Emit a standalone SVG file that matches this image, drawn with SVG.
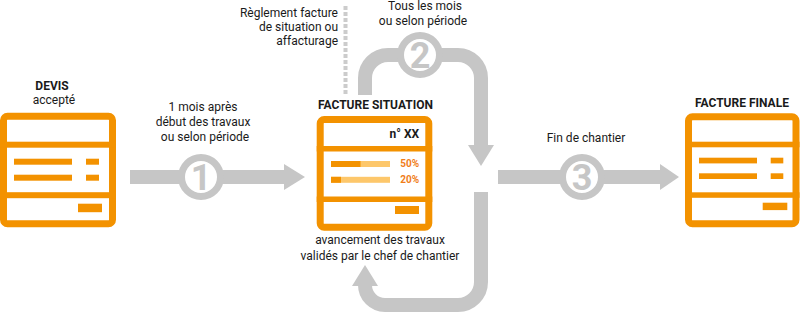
<svg xmlns="http://www.w3.org/2000/svg" width="800" height="317" viewBox="0 0 800 317">
<style>
  text { font-family: Roboto, "Liberation Sans", sans-serif; fill: #1a1a1a; }
  .t { font-size: 12px; }
  .b { font-size: 12px; font-weight: bold; }
  .num { font-size: 36px; font-weight: bold; fill: #c6c6c6; text-anchor: middle; }
  .pct { font-size: 10px; font-weight: bold; fill: #f07d1a; text-anchor: end; }
  .frame { fill: #ffffff; stroke: #f39200; stroke-width: 7; }
  .or { fill: #f39200; }
  .lt { fill: #fdc76b; }
  .band { fill: none; stroke: #c6c6c6; stroke-width: 14; }
  .gray { fill: #c6c6c6; }
  .ring { fill: #ffffff; stroke: #c6c6c6; stroke-width: 7; }
  .dash { stroke: #cccccc; stroke-width: 4; stroke-dasharray: 4 2; }
</style>

<g id="connectors">
  <!-- arrow 1 -->
  <rect class="gray" x="130" y="170" width="155" height="14"/>
  <polygon class="gray" points="284,164 305,177 284,190"/>
  <!-- arrow 3 -->
  <rect class="gray" x="498" y="170" width="163" height="14"/>
  <polygon class="gray" points="660,164 679,177 660,190"/>
  <!-- loop top -->
  <path class="band" d="M365 95 V78 A23 23 0 0 1 388 55 H458 A23 23 0 0 1 481 78 V146"/>
  <polygon class="gray" points="468,145 494,145 481,166"/>
  <!-- loop bottom -->
  <path class="band" d="M481 192 V282 A23 23 0 0 1 458 305 H385 A20 20 0 0 1 365 285 V284"/>
  <polygon class="gray" points="352,286 378,286 365,265"/>
  <!-- dashed -->
  <line class="dash" x1="345.5" y1="6" x2="345.5" y2="94"/>
</g>

<g id="step1">
  <circle class="ring" cx="201" cy="177" r="19.5"/>
  <text class="num" x="201" y="190">1</text>
  <text class="t" text-anchor="middle" x="203" y="111">1 mois après</text>
  <text class="t" text-anchor="middle" x="203" y="126">début des travaux</text>
  <text class="t" text-anchor="middle" x="205" y="141">ou selon période</text>
</g>

<g id="step2">
  <circle class="ring" cx="420" cy="55" r="19.5"/>
  <text class="num" x="420" y="68">2</text>
  <text class="t" text-anchor="middle" x="425" y="10">Tous les mois</text>
  <text class="t" text-anchor="middle" x="423" y="25">ou selon période</text>
</g>

<g id="reglement">
  <text class="t" text-anchor="end" x="338" y="17">Règlement facture</text>
  <text class="t" text-anchor="end" x="338" y="31">de situation ou</text>
  <text class="t" text-anchor="end" x="338" y="45">affacturage</text>
</g>

<g id="step3">
  <circle class="ring" cx="582" cy="177" r="19.5"/>
  <text class="num" x="582" y="190">3</text>
  <text class="t" text-anchor="middle" x="586" y="142">Fin de chantier</text>
</g>

<g id="devis">
  <text class="b" text-anchor="middle" x="52" y="90">DEVIS</text>
  <text class="t" text-anchor="middle" x="54" y="104">accepté</text>
  <g transform="translate(0,112.7)">
    <rect class="frame" x="3.5" y="3.5" width="109" height="107.5" rx="4"/>
    <rect class="or" x="0" y="29" width="116" height="6"/>
    <rect class="or" x="0" y="79.5" width="116" height="6"/>
    <rect class="or" x="14" y="46" width="58" height="6"/>
    <rect class="or" x="86" y="46" width="13" height="6"/>
    <rect class="or" x="14" y="62" width="58" height="6"/>
    <rect class="or" x="86" y="62" width="13" height="6"/>
    <rect class="or" x="78" y="91" width="24" height="8.5"/>
  </g>
</g>

<g id="facture-situation">
  <text class="b" text-anchor="middle" x="375.5" y="109">FACTURE SITUATION</text>
  <g transform="translate(316.7,116)">
    <rect class="frame" x="3.5" y="3.5" width="108.6" height="107.7" rx="4"/>
    <rect class="or" x="0" y="30" width="115.6" height="5.5"/>
    <rect class="or" x="0" y="80.5" width="115.6" height="5.5"/>
    <text class="b" text-anchor="end" x="102.5" y="22">n° XX</text>
    <rect class="lt" x="14.3" y="45" width="59" height="6"/>
    <rect class="or" x="14.3" y="45" width="29.5" height="6"/>
    <rect class="lt" x="14.3" y="60.8" width="59" height="6"/>
    <rect class="or" x="14.3" y="60.8" width="10" height="6"/>
    <text class="pct" x="102.5" y="50.8">50%</text>
    <text class="pct" x="102.5" y="66.5">20%</text>
    <rect class="or" x="78.3" y="90" width="24" height="8"/>
  </g>
  <text class="t" text-anchor="middle" x="380" y="244">avancement des travaux</text>
  <text class="t" text-anchor="middle" x="380" y="260">validés par le chef de chantier</text>
</g>

<g id="facture-finale">
  <text class="b" text-anchor="middle" x="742" y="107">FACTURE FINALE</text>
  <g transform="translate(685,113.3)">
    <rect class="frame" x="3.5" y="3.5" width="107.5" height="107" rx="4"/>
    <rect class="or" x="0" y="28.4" width="114.5" height="5.6"/>
    <rect class="or" x="0" y="79" width="114.5" height="5.5"/>
    <rect class="or" x="14" y="44.4" width="58" height="5.7"/>
    <rect class="or" x="85.7" y="44.4" width="12.6" height="5.7"/>
    <rect class="or" x="14" y="60" width="58" height="5.7"/>
    <rect class="or" x="85.7" y="60" width="12.6" height="5.7"/>
    <rect class="or" x="77.7" y="89.4" width="24.6" height="7.4"/>
  </g>
</g>
</svg>
